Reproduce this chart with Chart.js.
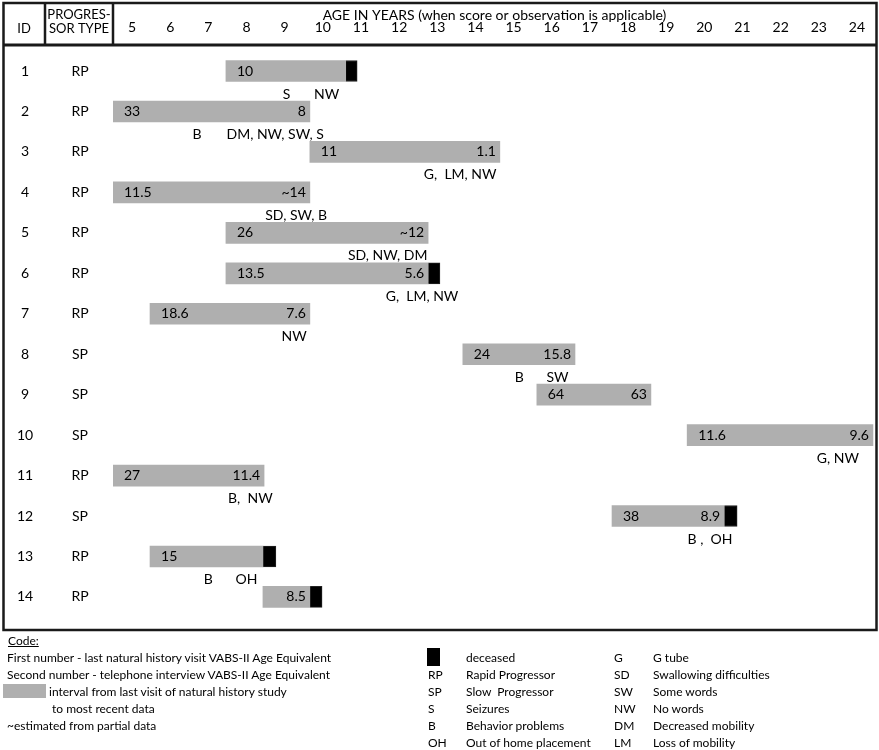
<!DOCTYPE html>
<html>
<head>
<meta charset="utf-8">
<script src="https://cdn.jsdelivr.net/npm/chart.js"></script>
<style>
  body { margin: 0; background: #fff; font-family: Lato, sans-serif; }
  #wrap { position: absolute; left: 0; top: 0; width: 879px; height: 750px; }
  .lg { position: absolute; font-size: 12px; line-height: 17px; color: #000; white-space: pre; }
  .sw { position: absolute; }
</style>
</head>
<body>
<div id="wrap">
  <canvas id="timeline" width="879" height="750"></canvas>

  <div class="lg" style="left:8px;top:632px;text-decoration:underline">Code:</div>
  <div class="lg" style="left:7px;top:649px">First number - last natural history visit VABS-II Age Equivalent</div>
  <div class="lg" style="left:7px;top:666px">Second number - telephone interview VABS-II Age Equivalent</div>
  <div class="sw" style="left:3px;top:684px;width:43px;height:14px;background:#afafaf"></div>
  <div class="lg" style="left:49px;top:683px">interval from last visit of natural history study</div>
  <div class="lg" style="left:52px;top:700px">to most recent data</div>
  <div class="lg" style="left:7px;top:717px">~estimated from partial data</div>

  <div class="sw" style="left:427px;top:648px;width:13px;height:18px;background:#000"></div>
  <div class="lg" style="left:466px;top:649px">deceased</div>
  <div class="lg" style="left:428px;top:666px">RP</div><div class="lg" style="left:466px;top:666px">Rapid Progressor</div>
  <div class="lg" style="left:428px;top:683px">SP</div><div class="lg" style="left:466px;top:683px">Slow  Progressor</div>
  <div class="lg" style="left:428px;top:700px">S</div><div class="lg" style="left:466px;top:700px">Seizures</div>
  <div class="lg" style="left:428px;top:717px">B</div><div class="lg" style="left:466px;top:717px">Behavior problems</div>
  <div class="lg" style="left:428px;top:734px">OH</div><div class="lg" style="left:466px;top:734px">Out of home placement</div>

  <div class="lg" style="left:614px;top:649px">G</div><div class="lg" style="left:653px;top:649px">G tube</div>
  <div class="lg" style="left:614px;top:666px">SD</div><div class="lg" style="left:653px;top:666px">Swallowing difficulties</div>
  <div class="lg" style="left:614px;top:683px">SW</div><div class="lg" style="left:653px;top:683px">Some words</div>
  <div class="lg" style="left:614px;top:700px">NW</div><div class="lg" style="left:653px;top:700px">No words</div>
  <div class="lg" style="left:614px;top:717px">DM</div><div class="lg" style="left:653px;top:717px">Decreased mobility</div>
  <div class="lg" style="left:614px;top:734px">LM</div><div class="lg" style="left:653px;top:734px">Loss of mobility</div>
</div>

<script>
// one entry per participant, top to bottom
const ids = [1, 2, 3, 4, 5, 6, 7, 8, 9, 10, 11, 12, 13, 14];
const types = ['RP', 'RP', 'RP', 'RP', 'RP', 'RP', 'RP', 'SP', 'SP', 'SP', 'RP', 'SP', 'RP', 'RP'];

// age (years) at last natural history visit and at most recent data
const intervalStart = [7.46, 4.5, 9.66, 4.5, 7.46, 7.46, 5.47, 13.67, 15.61, 19.55, 4.5, 17.58, 5.47, 8.43];
const intervalEnd = [10.6, 9.66, 14.64, 9.66, 12.76, 12.76, 9.66, 16.61, 18.6, 24.42, 8.46, 20.52, 8.43, 9.66];
// age at death (null = alive)
const deceasedAt = [10.9, null, null, null, null, 13.07, null, null, null, null, null, 20.86, 8.77, 9.98];

// VABS-II age equivalents
const firstScore = ['10', '33', '11', '11.5', '26', '13.5', '18.6', '24', '64', '11.6', '27', '38', '15', ''];
const secondScore = ['', '8', '1.1', '~14', '~12', '5.6', '7.6', '15.8', '63', '9.6', '11.4', '8.9', '', '8.5'];

// observations: [age, codes]
const notes = [
  [[9.05, 'S'], [10.1, 'NW']],
  [[6.7, 'B'], [8.75, 'DM, NW, SW, S']],
  [[13.6, 'G,  LM, NW']],
  [[9.3, 'SD, SW, B']],
  [[11.7, 'SD, NW, DM']],
  [[12.6, 'G,  LM, NW']],
  [[9.25, 'NW']],
  [[15.15, 'B'], [16.15, 'SW']],
  [],
  [[23.5, 'G, NW']],
  [[8.1, 'B,  NW']],
  [[20.15, 'B ,  OH']],
  [[7, 'B'], [8, 'OH']],
  []
];

const ageTicks = [5, 6, 7, 8, 9, 10, 11, 12, 13, 14, 15, 16, 17, 18, 19, 20, 21, 22, 23, 24];

const FONT = 'Lato';
const GRAY = '#afafaf';

const intervals = ids.map((id, i) => ({ x: [intervalStart[i], intervalEnd[i]], y: id }));
const deaths = ids
  .map((id, i) => deceasedAt[i] == null ? null : { x: [intervalEnd[i], deceasedAt[i]], y: id })
  .filter(d => d);

const tablePlugin = {
  id: 'table',
  afterDraw(chart) {
    const ctx = chart.ctx;
    const xs = chart.scales.x, ys = chart.scales.y;
    ctx.save();

    // frame
    ctx.strokeStyle = '#1a1a1a';
    ctx.lineWidth = 2.5;
    ctx.strokeRect(3.5, 3, 873, 627);
    ctx.lineWidth = 3;
    ctx.beginPath();
    ctx.moveTo(3, 45); ctx.lineTo(877, 45);
    ctx.stroke();
    ctx.lineWidth = 2.5;
    ctx.beginPath();
    ctx.moveTo(45, 3); ctx.lineTo(45, 45);
    ctx.moveTo(113, 3); ctx.lineTo(113, 45);
    ctx.stroke();

    ctx.fillStyle = '#000';
    ctx.textAlign = 'center';
    ctx.textBaseline = 'middle';
    ctx.font = `13px ${FONT}`;
    ctx.fillText('ID', 24, 29);
    ctx.fillText('PROGRES-', 79, 15);
    ctx.fillText('SOR TYPE', 79, 29);

    ctx.font = `14px ${FONT}`;
    ids.forEach((id, i) => {
      const y = ys.getPixelForValue(id);
      ctx.textAlign = 'center';
      ctx.fillText(String(id), 25, y);
      ctx.fillText(types[i], 80, y);

      const x0 = xs.getPixelForValue(intervalStart[i]);
      const x1 = xs.getPixelForValue(intervalEnd[i]);
      if (firstScore[i]) {
        ctx.textAlign = 'left';
        ctx.fillText(firstScore[i], x0 + 11, y);
      }
      if (secondScore[i]) {
        ctx.textAlign = 'right';
        ctx.fillText(secondScore[i], x1 - 4, y);
      }
      ctx.textAlign = 'center';
      notes[i].forEach(([age, txt]) => {
        ctx.fillText(txt, xs.getPixelForValue(age), y + 23);
      });
    });
    ctx.restore();
  }
};

new Chart(document.getElementById('timeline'), {
  type: 'bar',
  data: {
    datasets: [
      { label: 'interval', data: intervals, backgroundColor: GRAY, grouped: false, barThickness: 21 },
      { label: 'deceased', data: deaths, backgroundColor: '#000', borderColor: '#222', borderWidth: 1, grouped: false, barThickness: 21 }
    ]
  },
  options: {
    indexAxis: 'y',
    responsive: false,
    animation: false,
    layout: { padding: { left: 113, right: 3, top: 3, bottom: 120 } },
    plugins: { legend: { display: false }, tooltip: { enabled: false } },
    scales: {
      x: {
        type: 'linear',
        position: 'top',
        min: 4.5,
        max: 24.5,
        grid: { display: false, drawTicks: false },
        border: { display: false },
        afterFit: (s) => { s.height = 42; },
        afterBuildTicks: (s) => { s.ticks = ageTicks.map(v => ({ value: v })); },
        ticks: { color: '#000', font: { family: FONT, size: 14 }, padding: 9, maxRotation: 0, autoSkip: false },
        title: {
          display: true,
          text: 'AGE IN YEARS (when score or observation is applicable)',
          color: '#000',
          font: { family: FONT, size: 14 },
          padding: { top: 4, bottom: 2 }
        }
      },
      y: {
        type: 'linear',
        display: false,
        offset: false,
        reverse: true,
        min: 0.357,
        max: 14.817
      }
    }
  },
  plugins: [tablePlugin]
});
</script>
</body>
</html>
